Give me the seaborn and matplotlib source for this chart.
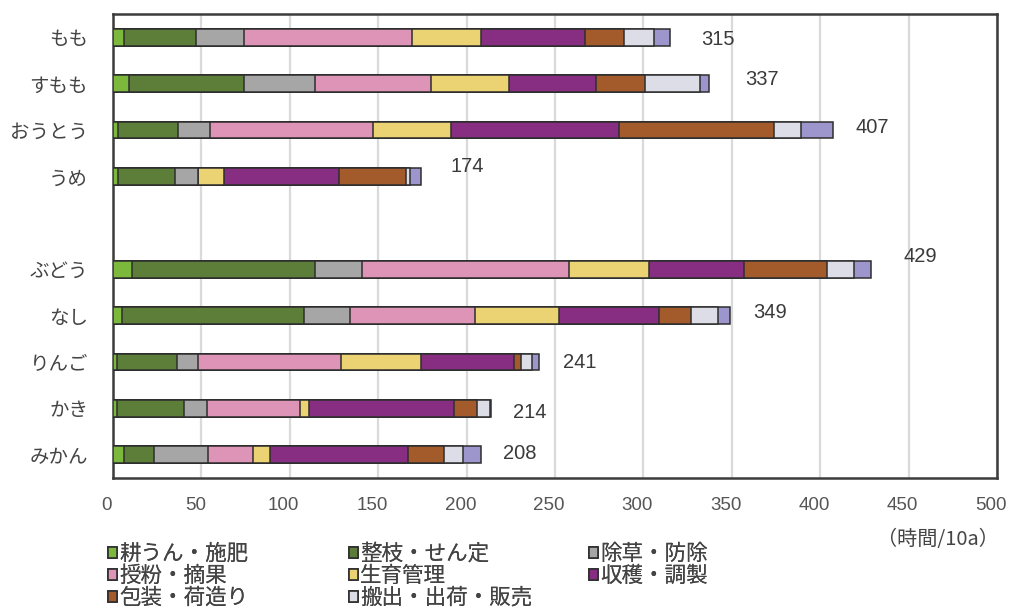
import matplotlib
matplotlib.use("Agg")
import matplotlib.pyplot as plt
from matplotlib.patches import Patch
from matplotlib.transforms import ScaledTranslation
import seaborn as sns
import pandas as pd
import numpy as np

# 作目
crops = ["もも", "すもも", "おうとう", "うめ", "ぶどう", "なし", "りんご", "かき", "みかん"]

# 作業別労働時間（時間/10a）
kouun_sehi = [6, 9, 3, 3, 11, 5, 2, 2, 6]
seishi_sentei = [41, 65, 34, 32, 103, 103, 34, 38, 17]
josou_boujo = [27, 40, 18, 13, 27, 26, 12, 13, 31]
jufun_tekika = [95, 66, 92, 0, 117, 71, 81, 53, 25]
seiiku_kanri = [39, 44, 44, 15, 45, 47, 45, 5, 10]
shukaku_chousei = [59, 49, 95, 65, 54, 57, 53, 82, 78]
housou_nizukuri = [22, 28, 88, 38, 47, 18, 4, 13, 20]
hanshutsu_hanbai = [17, 31, 15, 2, 15, 15, 6, 7, 11]
sonota = [9, 5, 18, 6, 10, 7, 4, 1, 10]

work_names = ["耕うん・施肥", "整枝・せん定", "除草・防除", "授粉・摘果", "生育管理",
              "収穫・調製", "包装・荷造り", "搬出・出荷・販売", "その他"]
work_values = [kouun_sehi, seishi_sentei, josou_boujo, jufun_tekika, seiiku_kanri,
               shukaku_chousei, housou_nizukuri, hanshutsu_hanbai, sonota]
work_colors = ["#7cb83c", "#5d7e38", "#a6a6a6", "#dd94b6", "#ebd374",
               "#872e83", "#a45b2c", "#dcdde6", "#9c96cc"]

x_ticks = list(range(0, 501, 50))

# 樹園地の後に一段あけて果樹を並べる
blank = " "
order = crops[:4] + [blank] + crops[4:]

# 積み上げ用の累積値（長い順に描いて手前に短いものを重ねる）
cum = np.cumsum(np.array(work_values), axis=0)
long_rows = []
for i, name in enumerate(work_names):
    for j, crop in enumerate(crops):
        long_rows.append({"作業": name, "作目": crop, "累積": cum[i, j]})
df = pd.DataFrame(long_rows)
totals = cum[-1]

sns.set_style("white")
jp_font = ["Noto Sans CJK JP", "DejaVu Sans"]
num_font = ["Liberation Sans Narrow", "Liberation Sans", "DejaVu Sans"]
plt.rcParams["font.family"] = jp_font

fig = plt.figure(figsize=(10.09, 6.11), dpi=100)
ax = fig.add_axes([113 / 1009, 1 - 478 / 611, (997 - 113) / 1009, (478 - 14) / 611])

for i in range(len(work_names) - 1, -1, -1):
    sub = df[df["作業"] == work_names[i]]
    sns.barplot(data=sub, x="累積", y="作目", order=order, orient="y",
                color=work_colors[i], saturation=1, width=0.36,
                edgecolor="#2e2e2e", linewidth=1.1, errorbar=None, ax=ax,
                zorder=3)

ax.set_xlim(0, 500)
ax.set_ylim(len(order) - 0.5, -0.5)
ax.set_xticks(x_ticks)
ax.set_yticks(range(len(order)))
ax.tick_params(axis="x", length=0, pad=14)
ax.tick_params(axis="y", length=0, pad=18)
ax.set_xticklabels([str(t) for t in x_ticks], fontfamily=num_font,
                   fontsize=13.5, color="#555555")
ax.set_yticklabels(order, fontsize=14, color="#444444")
# 目盛ラベルを少し左へ寄せる
shift = ScaledTranslation(-6 / 100, 0, fig.dpi_scale_trans)
for lbl in ax.get_xticklabels():
    lbl.set_transform(lbl.get_transform() + shift)
ax.set_xlabel("")
ax.set_ylabel("")

ax.xaxis.grid(True, color="#dadada", linewidth=1.6, zorder=0)
ax.yaxis.grid(False)
ax.set_axisbelow(True)
for sp in ax.spines.values():
    sp.set_visible(True)
    sp.set_color("#3c3c3c")
    sp.set_linewidth(1.8)

# 合計値ラベル（ピクセル単位のずらし量）
label_shift = {"もも": (31, -2), "すもも": (36, 4), "おうとう": (23, 3), "うめ": (30, 10),
               "ぶどう": (32, 13), "なし": (23, 3), "りんご": (24, 0), "かき": (22, -4),
               "みかん": (22, 1)}
for j, crop in enumerate(crops):
    ypos = order.index(crop)
    dx, dy = label_shift[crop]
    ax.annotate(f"{int(totals[j])}", xy=(totals[j], ypos), xytext=(dx, dy),
                textcoords="offset pixels", ha="left", va="center",
                fontsize=14.5, fontfamily=num_font, color="#3a3a3a")

# 凡例（その他は凡例に載せない）
handles = [Patch(facecolor=work_colors[i], edgecolor="#2e2e2e", linewidth=1.2,
                 label=work_names[i]) for i in range(8)]
columns = [[0, 3, 6], [1, 4, 7], [2, 5]]
col_x = [108, 349, 589]
legend_kw = dict(loc="upper left", frameon=False, fontsize=15.5, handlelength=0.4,
                 handleheight=0.4, handletextpad=0.12, labelspacing=0.0,
                 borderpad=0, borderaxespad=0, labelcolor="#444444")
for cols, cx in zip(columns, col_x):
    leg = fig.legend(handles=[handles[k] for k in cols],
                     bbox_to_anchor=(cx / 1009, 1 - 543 / 611), **legend_kw)
    fig.add_artist(leg)

fig.text(999 / 1009, 1 - 539 / 611, "（時間/10a）", ha="right", va="center",
         fontsize=14.5, color="#444444")

fig.savefig("out.png", dpi=100)
